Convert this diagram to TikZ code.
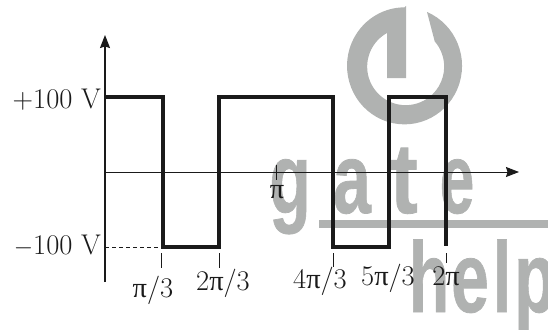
\documentclass[tikz,border=0pt]{standalone}
\usepackage{fontspec}
\usetikzlibrary{arrows.meta}
\newfontfamily\pifont{Liberation Serif}
\newfontfamily\logofont[FakeBold=.8]{Liberation Sans Bold}
\newcommand{\uppi}{{\pifont π}}
\definecolor{logogray}{HTML}{B0B2B1}
\definecolor{inkblack}{HTML}{1A1A1A}
\tikzset{
  wavepath/.style={draw=inkblack,line width=3.4pt,line join=miter},
  yaxis/.style={draw=inkblack,line width=1.4pt,-{Stealth[length=13pt,width=10pt,inset=1.5pt]}},
  xaxis/.style={draw=inkblack,line width=.9pt,-{Stealth[length=13pt,width=10pt,inset=1.5pt]}},
  tickline/.style={draw=inkblack,line width=.8pt},
  lab/.style={text=inkblack,font=\fontsize{28.5}{32}\selectfont,inner sep=0pt,anchor=base},
  logoletter/.style={text=logogray,font=\logofont\fontsize{100}{100}\selectfont,
    inner sep=0pt,anchor=base,transform shape},
}
\begin{document}
\begin{tikzpicture}[x=1pt,y=-1pt]
\useasboundingbox (0,0) rectangle (548,329);
% logo behind the plot
\fill[logogray] (406,6) -- (406,78) -- (387,78) -- (387,33)
  arc[start angle=119,end angle=401,x radius=38.5pt,y radius=38.5pt]
  -- (427,12)
  arc[start angle=67,end angle=-270,x radius=57.5pt,y radius=58.5pt] -- cycle;
\fill[logogray] (319,220) rectangle (548,228);
\foreach \ch/\xpos/\sc/\name in {g/290/.68/lg,a/352/.68/la,t/404/.83/lt,e/457/.62/le}{
  \node[logoletter,xscale=\sc] (\name) at (\xpos,213) {\ch};
}
\foreach \ch/\xpos/\sc/\name in {h/429/.66/lh,e/470/.68/lh2,l/502/.68/ll,p/535/.68/lp}{
  \node[logoletter,xscale=\sc] (\name) at (\xpos,312) {\ch};
}
% axes
\coordinate (o) at (105,172);
\coordinate (ybot) at (105,282);
\coordinate (ytop) at (105,35);
\coordinate (xend) at (519,172);
\draw[yaxis] (ybot) -- (ytop);
\draw[xaxis] (o) -- (xend);
% waveform
\coordinate (w0) at (105,97);
\foreach \name/\xpos/\ypos in {w1/163/97,w2/163/247,w3/219/247,w4/219/97,w5/333/97,
  w6/333/247,w7/389/247,w8/389/97,w9/446/97,w10/446/246}{
  \coordinate (\name) at (\xpos,\ypos);
}
\draw[wavepath] (w0) -- (w1) -- (w2) -- (w3) -- (w4) -- (w5) -- (w6) -- (w7) -- (w8) -- (w9) -- (w10);
\coordinate (lowl) at (105,247);
\draw[tickline,dash pattern=on 4pt off 3pt] (lowl) -- (w2);
% ticks below the axis
\foreach \name/\xpos/\ya/\yb in {ta/161/253/268,tb/219/253/268,tc/333/253/267,td/446/253/263,te/276/165/180}{
  \coordinate (\name u) at (\xpos,\ya);
  \coordinate (\name d) at (\xpos,\yb);
  \draw[tickline] (\name u) -- (\name d);
}
% labels
\node[lab,anchor=base east] (vhigh) at (101,108) {+100 V};
\node[lab,anchor=base east] (vlow) at (101,254) {$-$100 V};
\node[lab] (pa) at (153,297) {\uppi/3};
\node[lab] (pb) at (223,290) {2\uppi/3};
\node[lab] (pc) at (320,288) {4\uppi/3};
\node[lab] (pd) at (388,285) {5\uppi/3};
\node[lab] (pe) at (446,285) {2\uppi};
\node[lab] (pf) at (277,198) {\uppi};
\end{tikzpicture}
\end{document}
